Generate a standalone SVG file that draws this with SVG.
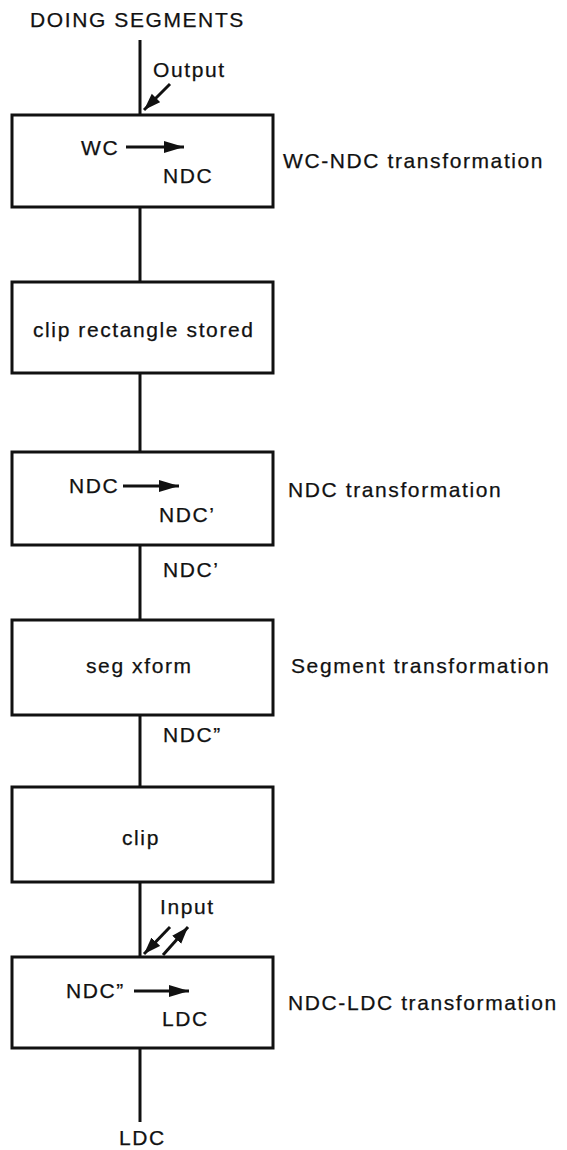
<svg xmlns="http://www.w3.org/2000/svg" width="567" height="1150" viewBox="0 0 567 1150">
<style>
text{font-family:"Liberation Sans",Arial,sans-serif;font-size:21px;letter-spacing:1.6px;fill:#111;stroke:#111;stroke-width:0.25}
.box{fill:#fff;stroke:#111;stroke-width:3}
.ln{stroke:#111;stroke-width:3;fill:none}
.ar{stroke:#111;stroke-width:3;fill:none}
</style>
<defs>
<marker id="ah" markerUnits="userSpaceOnUse" markerWidth="22" markerHeight="13" refX="20" refY="6" orient="auto">
<path d="M0,0 L20,6 L0,12 z" fill="#111"/>
</marker>
<marker id="ad" markerUnits="userSpaceOnUse" markerWidth="18" markerHeight="13" refX="17" refY="6" orient="auto">
<path d="M0,0 L17,6 L0,12 z" fill="#111"/>
</marker>
</defs>
<g id="connectors">
<line class="ln" x1="140" y1="40" x2="140" y2="115"/>
<line class="ln" x1="140" y1="207" x2="140" y2="282"/>
<line class="ln" x1="140" y1="373" x2="140" y2="452"/>
<line class="ln" x1="140" y1="545" x2="140" y2="620"/>
<line class="ln" x1="140" y1="715" x2="140" y2="787"/>
<line class="ln" x1="140" y1="882" x2="140" y2="957"/>
<line class="ln" x1="140" y1="1048" x2="140" y2="1122"/>
<line class="ar" x1="170" y1="84" x2="144" y2="110" marker-end="url(#ad)"/>
<line class="ar" x1="170" y1="927" x2="144" y2="954" marker-end="url(#ad)"/>
<line class="ar" x1="163" y1="955" x2="188" y2="927" marker-end="url(#ad)"/>
</g>
<g id="title"><text x="30" y="27">DOING SEGMENTS</text></g>
<g id="output-label"><text x="153" y="77">Output</text></g>
<g id="n1">
<rect class="box" x="12" y="115" width="261" height="92"/>
<text x="81" y="155">WC</text>
<line class="ar" x1="126" y1="147" x2="184" y2="147" marker-end="url(#ah)"/>
<text x="163" y="183">NDC</text>
</g>
<g id="l1"><text x="283" y="168">WC-NDC transformation</text></g>
<g id="n2">
<rect class="box" x="12" y="282" width="261" height="91"/>
<text x="33" y="337">clip rectangle stored</text>
</g>
<g id="n3">
<rect class="box" x="12" y="452" width="261" height="93"/>
<text x="69" y="493">NDC</text>
<line class="ar" x1="123" y1="486" x2="179" y2="486" marker-end="url(#ah)"/>
<text x="159" y="522">NDC’</text>
</g>
<g id="l3"><text x="288" y="497">NDC transformation</text></g>
<g id="e3"><text x="163" y="577">NDC’</text></g>
<g id="n4">
<rect class="box" x="12" y="620" width="261" height="95"/>
<text x="86" y="673">seg xform</text>
</g>
<g id="l4"><text x="291" y="673">Segment transformation</text></g>
<g id="e4"><text x="163" y="742">NDC”</text></g>
<g id="n5">
<rect class="box" x="12" y="787" width="261" height="95"/>
<text x="122" y="845">clip</text>
</g>
<g id="input-label"><text x="160" y="914">Input</text></g>
<g id="n6">
<rect class="box" x="12" y="957" width="261" height="91"/>
<text x="66" y="998">NDC”</text>
<line class="ar" x1="134" y1="991" x2="189" y2="991" marker-end="url(#ah)"/>
<text x="162" y="1026">LDC</text>
</g>
<g id="l6"><text x="288" y="1010">NDC-LDC transformation</text></g>
<g id="e6"><text x="119" y="1145">LDC</text></g>
</svg>
